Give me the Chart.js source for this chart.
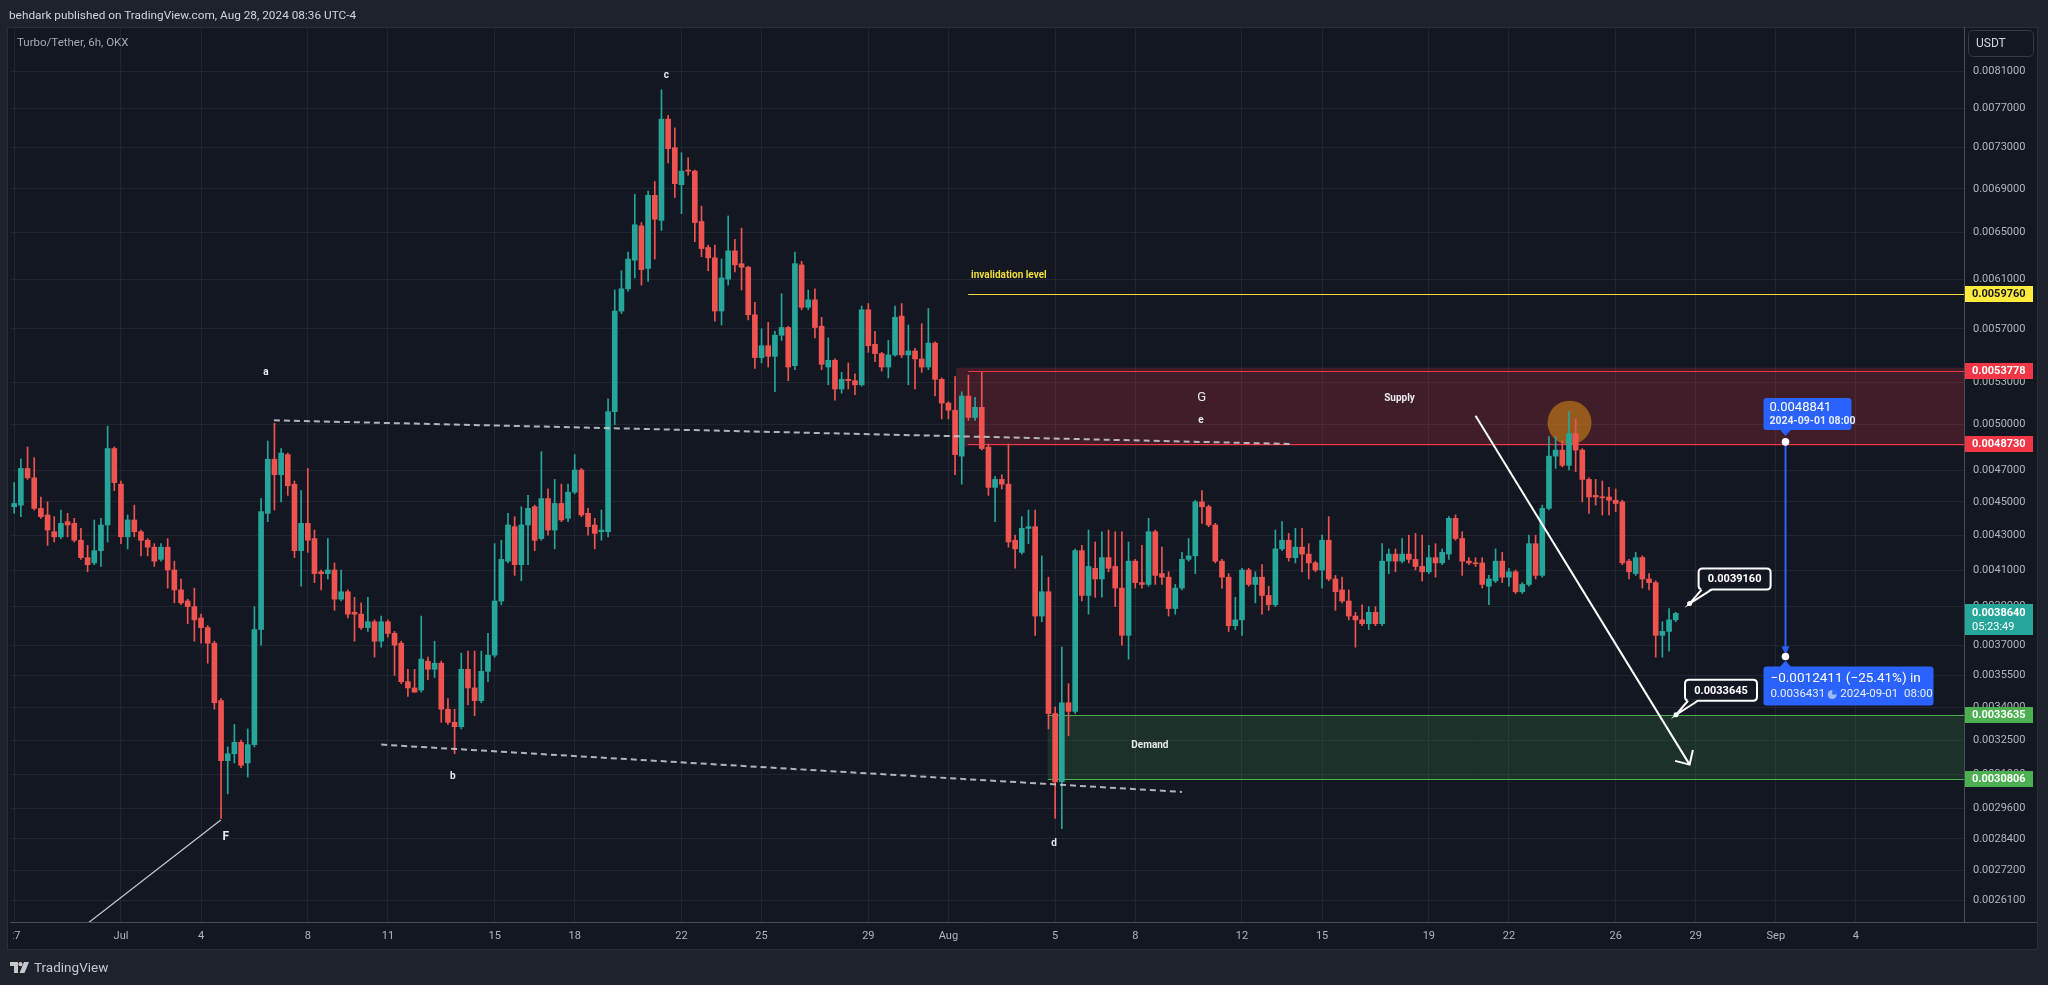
<!DOCTYPE html>
<html><head><meta charset="utf-8">
<script src="https://cdn.jsdelivr.net/npm/chart.js@4.4.1/dist/chart.umd.min.js"></script>
<style>
html,body{margin:0;padding:0;background:#1e222d;width:2048px;height:985px;overflow:hidden;}
#wrap{position:relative;width:2048px;height:985px;}
canvas{position:absolute;left:0;top:0;}
.hdr{position:absolute;left:9px;top:7px;font:11.8px Roboto,sans-serif;color:#d1d4dc;white-space:nowrap;line-height:16px;}
.sym{position:absolute;left:17px;top:34px;font:11.5px Roboto,sans-serif;color:#a6a9b2;white-space:nowrap;line-height:16px;}
.foot{position:absolute;left:10px;top:959px;height:16px;display:flex;align-items:center;font:13.5px Roboto,sans-serif;color:#c6c8ce;white-space:nowrap;}
.foot svg{margin-right:5px;}
</style></head>
<body><div id="wrap">
<canvas id="c" width="2048" height="985" style="width:2048px;height:985px"></canvas>
<div class="hdr">behdark published on TradingView.com, Aug 28, 2024 08:36 UTC-4</div>
<div class="sym">Turbo/Tether, 6h, OKX</div>
<div class="foot"><svg width="19" height="11" viewBox="0 0 19 11"><path d="M0 0H8V11H4V4H0Z" fill="#c6c8ce"/><circle cx="10.5" cy="2.2" r="2.1" fill="#c6c8ce"/><path d="M14 0H19L14.5 11H9.5Z" fill="#c6c8ce"/></svg><span>TradingView</span></div>
</div>
<script>
// ---- candle data (6h candles, Turbo/Tether) ----
const opens=[
0.00447,0.00448,0.00471,0.00465,0.00446,0.00442,0.00432,0.00429,0.00438,0.00437,
0.00427,0.00417,0.00414,0.00421,0.00436,0.00484,0.00461,0.00429,0.00439,0.00432,
0.00427,0.00423,0.00416,0.00423,0.00410,0.00399,0.00393,0.00390,0.00384,0.00379,
0.00371,0.00343,0.00316,0.00319,0.00324,0.00315,0.00323,0.00378,0.00443,0.00477,
0.00467,0.00480,0.00461,0.00421,0.00437,0.00428,0.00409,0.00408,0.00410,0.00394,
0.00398,0.00387,0.00386,0.00379,0.00382,0.00372,0.00382,0.00376,0.00371,0.00352,
0.00349,0.00348,0.00362,0.00358,0.00361,0.00339,0.00333,0.00331,0.00358,0.00349,
0.00343,0.00357,0.00365,0.00393,0.00415,0.00435,0.00413,0.00436,0.00447,0.00428,
0.00452,0.00433,0.00449,0.00440,0.00456,0.00470,0.00443,0.00436,0.00432,0.00432,
0.00509,0.00584,0.00602,0.00626,0.00656,0.00619,0.00684,0.00661,0.00759,0.00730,
0.00694,0.00708,0.00707,0.00660,0.00637,0.00628,0.00584,0.00610,0.00634,0.00623,
0.00620,0.00581,0.00548,0.00557,0.00549,0.00565,0.00571,0.00542,0.00622,0.00587,
0.00593,0.00572,0.00541,0.00546,0.00525,0.00532,0.00531,0.00528,0.00585,0.00558,
0.00551,0.00541,0.00550,0.00580,0.00550,0.00553,0.00547,0.00541,0.00559,0.00532,
0.00515,0.00510,0.00479,0.00520,0.00505,0.00512,0.00485,0.00459,0.00464,0.00461,
0.00427,0.00420,0.00434,0.00435,0.00385,0.00398,0.00337,0.00307,0.00342,0.00338,
0.00421,0.00396,0.00411,0.00405,0.00417,0.00412,0.00400,0.00375,0.00415,0.00403,
0.00402,0.00432,0.00408,0.00406,0.00389,0.00400,0.00416,0.00418,0.00450,0.00447,
0.00436,0.00415,0.00406,0.00380,0.00383,0.00410,0.00402,0.00406,0.00396,0.00391,
0.00422,0.00427,0.00417,0.00423,0.00419,0.00414,0.00410,0.00427,0.00405,0.00399,
0.00393,0.00385,0.00383,0.00381,0.00387,0.00381,0.00415,0.00419,0.00415,0.00419,
0.00416,0.00412,0.00409,0.00417,0.00414,0.00419,0.00440,0.00428,0.00415,0.00414,
0.00414,0.00401,0.00404,0.00415,0.00406,0.00409,0.00398,0.00402,0.00425,0.00407,
0.00446,0.00479,0.00483,0.00473,0.00494,0.00483,0.00464,0.00454,0.00453,0.00453,
0.00451,0.00450,0.00415,0.00408,0.00417,0.00405,0.00403,0.00375,0.00377,0.00383];
const highs=[
0.00462,0.00477,0.00485,0.00478,0.00453,0.00450,0.00441,0.00445,0.00443,0.00440,
0.00434,0.00424,0.00439,0.00440,0.00499,0.00485,0.00463,0.00442,0.00448,0.00433,
0.00428,0.00425,0.00425,0.00428,0.00415,0.00405,0.00394,0.00400,0.00386,0.00380,
0.00372,0.00344,0.00322,0.00332,0.00325,0.00330,0.00390,0.00452,0.00489,0.00501,
0.00484,0.00481,0.00463,0.00457,0.00471,0.00433,0.00410,0.00428,0.00414,0.00410,
0.00399,0.00395,0.00392,0.00395,0.00383,0.00385,0.00383,0.00377,0.00372,0.00358,
0.00358,0.00385,0.00364,0.00372,0.00362,0.00344,0.00339,0.00366,0.00367,0.00367,
0.00367,0.00376,0.00425,0.00427,0.00443,0.00441,0.00447,0.00454,0.00448,0.00482,
0.00458,0.00464,0.00461,0.00461,0.00480,0.00471,0.00446,0.00440,0.00445,0.00518,
0.00601,0.00617,0.00633,0.00685,0.00659,0.00688,0.00697,0.00790,0.00763,0.00750,
0.00725,0.00720,0.00708,0.00674,0.00639,0.00639,0.00627,0.00665,0.00644,0.00654,
0.00621,0.00591,0.00570,0.00575,0.00568,0.00598,0.00572,0.00633,0.00625,0.00601,
0.00602,0.00579,0.00563,0.00547,0.00537,0.00544,0.00536,0.00588,0.00590,0.00568,
0.00552,0.00561,0.00588,0.00590,0.00573,0.00555,0.00574,0.00586,0.00560,0.00533,
0.00516,0.00534,0.00523,0.00535,0.00519,0.00537,0.00487,0.00466,0.00467,0.00487,
0.00430,0.00441,0.00445,0.00445,0.00418,0.00406,0.00340,0.00369,0.00351,0.00422,
0.00424,0.00433,0.00426,0.00432,0.00433,0.00432,0.00432,0.00426,0.00416,0.00424,
0.00440,0.00433,0.00423,0.00409,0.00402,0.00420,0.00428,0.00451,0.00457,0.00448,
0.00437,0.00416,0.00408,0.00395,0.00411,0.00411,0.00409,0.00413,0.00401,0.00433,
0.00438,0.00431,0.00434,0.00434,0.00425,0.00415,0.00430,0.00441,0.00407,0.00406,
0.00399,0.00387,0.00391,0.00390,0.00390,0.00425,0.00422,0.00422,0.00428,0.00430,
0.00431,0.00430,0.00424,0.00425,0.00422,0.00441,0.00442,0.00432,0.00417,0.00417,
0.00417,0.00407,0.00422,0.00420,0.00411,0.00410,0.00403,0.00430,0.00430,0.00448,
0.00492,0.00492,0.00489,0.00509,0.00504,0.00484,0.00465,0.00464,0.00463,0.00459,
0.00458,0.00451,0.00416,0.00420,0.00418,0.00408,0.00404,0.00382,0.00389,0.00387];
const lows=[
0.00443,0.00441,0.00464,0.00445,0.00440,0.00424,0.00426,0.00428,0.00429,0.00426,
0.00416,0.00409,0.00413,0.00412,0.00426,0.00457,0.00425,0.00422,0.00429,0.00418,
0.00418,0.00412,0.00415,0.00400,0.00392,0.00391,0.00381,0.00372,0.00371,0.00361,
0.00339,0.00292,0.00302,0.00315,0.00313,0.00309,0.00322,0.00370,0.00438,0.00445,
0.00450,0.00454,0.00417,0.00401,0.00420,0.00403,0.00399,0.00405,0.00388,0.00393,
0.00384,0.00372,0.00378,0.00377,0.00364,0.00369,0.00374,0.00355,0.00351,0.00345,
0.00347,0.00347,0.00353,0.00354,0.00333,0.00332,0.00319,0.00330,0.00341,0.00336,
0.00342,0.00352,0.00364,0.00391,0.00414,0.00407,0.00404,0.00413,0.00421,0.00427,
0.00430,0.00422,0.00438,0.00438,0.00455,0.00441,0.00430,0.00422,0.00427,0.00429,
0.00500,0.00582,0.00600,0.00611,0.00605,0.00608,0.00627,0.00652,0.00715,0.00682,
0.00667,0.00703,0.00642,0.00629,0.00617,0.00576,0.00573,0.00605,0.00616,0.00601,
0.00577,0.00540,0.00544,0.00541,0.00523,0.00561,0.00531,0.00539,0.00585,0.00585,
0.00563,0.00539,0.00528,0.00517,0.00522,0.00525,0.00521,0.00527,0.00552,0.00545,
0.00538,0.00533,0.00549,0.00548,0.00528,0.00525,0.00537,0.00539,0.00520,0.00504,
0.00504,0.00467,0.00461,0.00503,0.00503,0.00483,0.00454,0.00438,0.00458,0.00423,
0.00411,0.00419,0.00425,0.00375,0.00382,0.00330,0.00292,0.00288,0.00327,0.00337,
0.00393,0.00386,0.00395,0.00395,0.00409,0.00390,0.00370,0.00363,0.00400,0.00400,
0.00401,0.00402,0.00402,0.00385,0.00386,0.00399,0.00415,0.00408,0.00437,0.00435,
0.00414,0.00400,0.00377,0.00378,0.00375,0.00401,0.00392,0.00386,0.00388,0.00390,
0.00421,0.00415,0.00414,0.00409,0.00405,0.00409,0.00400,0.00404,0.00388,0.00392,
0.00383,0.00369,0.00380,0.00378,0.00380,0.00380,0.00408,0.00409,0.00414,0.00414,
0.00410,0.00404,0.00408,0.00406,0.00413,0.00416,0.00427,0.00407,0.00413,0.00412,
0.00400,0.00391,0.00403,0.00403,0.00401,0.00397,0.00397,0.00401,0.00405,0.00406,
0.00445,0.00471,0.00472,0.00470,0.00469,0.00450,0.00443,0.00448,0.00442,0.00442,
0.00444,0.00413,0.00405,0.00407,0.00400,0.00399,0.00364,0.00364,0.00367,0.00382];
const closes=[
0.00449,0.00471,0.00465,0.00446,0.00441,0.00433,0.00429,0.00437,0.00436,0.00427,
0.00417,0.00413,0.00421,0.00436,0.00484,0.00462,0.00429,0.00439,0.00432,0.00427,
0.00423,0.00415,0.00423,0.00410,0.00399,0.00392,0.00390,0.00383,0.00379,0.00371,
0.00342,0.00316,0.00319,0.00324,0.00314,0.00323,0.00378,0.00444,0.00477,0.00467,
0.00481,0.00460,0.00421,0.00437,0.00427,0.00408,0.00408,0.00410,0.00394,0.00398,
0.00386,0.00386,0.00379,0.00382,0.00372,0.00382,0.00376,0.00370,0.00352,0.00349,
0.00347,0.00363,0.00358,0.00361,0.00339,0.00333,0.00331,0.00358,0.00349,0.00343,
0.00357,0.00365,0.00393,0.00416,0.00436,0.00413,0.00436,0.00446,0.00427,0.00452,
0.00433,0.00449,0.00439,0.00456,0.00470,0.00442,0.00435,0.00431,0.00433,0.00509,
0.00584,0.00602,0.00627,0.00657,0.00618,0.00684,0.00662,0.00759,0.00729,0.00695,
0.00707,0.00707,0.00659,0.00636,0.00628,0.00584,0.00611,0.00634,0.00622,0.00620,
0.00581,0.00548,0.00557,0.00549,0.00565,0.00571,0.00541,0.00623,0.00587,0.00593,
0.00571,0.00543,0.00546,0.00525,0.00532,0.00531,0.00528,0.00585,0.00557,0.00551,
0.00541,0.00550,0.00579,0.00550,0.00553,0.00547,0.00541,0.00559,0.00532,0.00515,
0.00510,0.00480,0.00520,0.00505,0.00512,0.00484,0.00459,0.00464,0.00461,0.00426,
0.00422,0.00434,0.00435,0.00385,0.00398,0.00337,0.00307,0.00342,0.00338,0.00421,
0.00396,0.00412,0.00405,0.00417,0.00411,0.00400,0.00375,0.00415,0.00403,0.00402,
0.00432,0.00407,0.00406,0.00389,0.00400,0.00416,0.00418,0.00450,0.00447,0.00436,
0.00415,0.00406,0.00380,0.00383,0.00410,0.00402,0.00406,0.00396,0.00391,0.00422,
0.00427,0.00417,0.00423,0.00419,0.00414,0.00410,0.00427,0.00405,0.00398,0.00393,
0.00385,0.00383,0.00381,0.00387,0.00381,0.00415,0.00419,0.00415,0.00419,0.00416,
0.00412,0.00409,0.00417,0.00414,0.00420,0.00440,0.00428,0.00415,0.00414,0.004135,
0.00402,0.00405,0.00415,0.00406,0.00409,0.00398,0.00402,0.00425,0.00407,0.00446,
0.00479,0.00483,0.00473,0.00494,0.00483,0.00464,0.00453,0.00453,0.004525,0.00451,
0.00449,0.00414,0.00409,0.00417,0.00405,0.00403,0.00375,0.00377,0.00383,0.003864];

// time axis: days counted from Jul 1 (00:00); first candle on Jun 27, 4 candles per day
const firstCandleDay=-4;
const candleStepDays=0.25;
const xTickDays=[-4,0,3,7,10,14,17,21,24,28,31,35,38,42,45,49,52,56,59,62,65];
const xTickLabels=['27','Jul','4','8','11','15','18','22','25','29','Aug','5','8','12','15','19','22','26','29','Sep','4'];
const yTicks=[0.0081,0.0077,0.0073,0.0069,0.0065,0.0061,0.0057,0.0053,0.0050,0.0047,0.0045,0.0043,0.0041,0.0039,0.0037,0.00355,0.0034,0.00325,0.0031,0.00296,0.00284,0.00272,0.00261];
const xRange=[-4.154,69.05];
const yRange=[0.002535,0.008608];

// levels drawn on the chart
const supplyTop=0.0053778, supplyBottom=0.0048730;
const demandTop=0.0033635, demandBottom=0.0030806;
const invalidationLevel=0.0059760;
const lastPrice=0.0038640;
const measureDay=62.333, measureFrom=0.0048841, measureTo=0.0036431;

const UP='#26a69a', DOWN='#ef5350', GRID='rgba(42,46,57,0.62)';
const xs=opens.map((_,i)=>firstCandleDay+i*candleStepDays);
const candleColors=opens.map((o,i)=>closes[i]>=o?UP:DOWN);
const wickData=xs.map((x,i)=>({x:x,y:[lows[i],highs[i]]}));
const bodyData=xs.map((x,i)=>({x:x,y:[Math.min(opens[i],closes[i]),Math.max(opens[i],closes[i])]}));

function rr(c,x,y,w,h,r){c.beginPath();c.moveTo(x+r,y);c.lineTo(x+w-r,y);c.quadraticCurveTo(x+w,y,x+w,y+r);c.lineTo(x+w,y+h-r);c.quadraticCurveTo(x+w,y+h,x+w-r,y+h);c.lineTo(x+r,y+h);c.quadraticCurveTo(x,y+h,x,y+h-r);c.lineTo(x,y+r);c.quadraticCurveTo(x,y,x+r,y);c.closePath();}
function txt(c,t,x,y,font,color,align){c.font=font;c.fillStyle=color;c.textAlign=align||'center';c.textBaseline='middle';c.fillText(t,x,y);}

const tvPlugin={
  id:'tv',
  beforeDraw(chart){
    const c=chart.ctx;
    c.save();
    c.fillStyle='#1e222d';c.fillRect(0,0,2048,985);
    c.fillStyle='#131722';c.fillRect(7,27,2030,922);
    c.strokeStyle='#2a2e39';c.lineWidth=1;c.strokeRect(7.5,27.5,2030,922);
    c.restore();
    const sx=chart.scales.x;
    if(!sx.__clipped){
      const orig=sx.drawLabels.bind(sx);
      sx.drawLabels=function(a){const cc=this.ctx;cc.save();cc.beginPath();cc.rect(chart.chartArea.left+3,this.top,chart.chartArea.right-chart.chartArea.left-3,this.height);cc.clip();orig(a);cc.restore();};
      sx.__clipped=true;
    }
  },
  beforeDatasetsDraw(chart){
    const c=chart.ctx,a=chart.chartArea,X=v=>chart.scales.x.getPixelForValue(v),Y=v=>chart.scales.y.getPixelForValue(v);
    const hl=(x1,x2,y)=>{c.beginPath();c.moveTo(x1,Math.round(y)+0.5);c.lineTo(x2,Math.round(y)+0.5);c.stroke();};
    c.save();c.beginPath();c.rect(a.left,a.top,a.right-a.left,a.bottom-a.top);c.clip();
    // supply zone
    c.fillStyle='rgba(242,54,69,0.2)';
    c.fillRect(X(31.29),Y(0.005405),a.right-X(31.29),Y(0.004855)-Y(0.005405));
    c.strokeStyle='#f23645';c.lineWidth=1;
    hl(X(31.74),a.right,Y(supplyTop));hl(X(31.74),a.right,Y(supplyBottom));
    // demand zone
    c.fillStyle='rgba(76,175,80,0.17)';
    c.fillRect(X(34.72),Y(demandTop),a.right-X(34.72),Y(demandBottom)-Y(demandTop));
    c.strokeStyle='#4caf50';
    hl(X(34.72),a.right,Y(demandTop));hl(X(34.72),a.right,Y(demandBottom));
    // invalidation level
    c.strokeStyle='#f5d937';
    hl(X(31.74),a.right,Y(invalidationLevel));
    // orange circle
    c.fillStyle='rgba(224,140,20,0.55)';
    c.beginPath();c.arc(X(54.27),Y(0.005014),22,0,Math.PI*2);c.fill();
    c.restore();
  },
  afterDatasetsDraw(chart){
    const c=chart.ctx,a=chart.chartArea,X=v=>chart.scales.x.getPixelForValue(v),Y=v=>chart.scales.y.getPixelForValue(v);
    c.save();c.beginPath();c.rect(a.left,a.top,a.right-a.left,a.bottom-a.top);c.clip();
    // dashed trend lines
    c.strokeStyle='rgba(205,207,214,0.85)';c.lineWidth=2;c.setLineDash([6,4]);
    [[5.73,0.00503,43.83,0.00487],[9.75,0.00323,39.75,0.003028]].forEach(l=>{c.beginPath();c.moveTo(X(l[0]),Y(l[1]));c.lineTo(X(l[2]),Y(l[3]));c.stroke();});
    c.setLineDash([]);
    // line into F
    c.strokeStyle='rgba(220,222,228,0.9)';c.lineWidth=1.2;
    c.beginPath();c.moveTo(X(-2),Y(0.002477));c.lineTo(X(3.74),Y(0.002914));c.stroke();
    // projection arrow
    const ax1=X(50.75),ay1=Y(0.005062),ax2=X(58.77),ay2=Y(0.003143);
    c.strokeStyle='#ffffff';c.lineWidth=2;
    c.beginPath();c.moveTo(ax1,ay1);c.lineTo(ax2,ay2);c.stroke();
    const ang=Math.atan2(ay1-ay2,ax1-ax2);
    c.beginPath();
    c.moveTo(ax2+15*Math.cos(ang-0.77),ay2+15*Math.sin(ang-0.77));c.lineTo(ax2,ay2);
    c.lineTo(ax2+15*Math.cos(ang+0.77),ay2+15*Math.sin(ang+0.77));c.stroke();
    // wave labels
    const lab=[['a',5.43,0.00537,'bold 10px Roboto'],['b',12.43,0.003094,'bold 10px Roboto'],['c',20.43,0.008056,'bold 10px Roboto'],
      ['d',34.96,0.002823,'bold 10px Roboto'],['e',40.46,0.00503,'bold 10px Roboto'],['G',40.49,0.005187,'13px Roboto'],
      ['F',3.93,0.002847,'bold 12px Roboto'],['Supply',47.9,0.005182,'bold 10px Roboto'],['Demand',38.55,0.003228,'bold 10px Roboto']];
    lab.forEach(l=>txt(c,l[0],X(l[1]),Y(l[2]),l[3],'#e9eaee'));
    txt(c,'invalidation level',X(31.85),Y(0.00613),'bold 10px Roboto','#f2de3a','left');
    // callouts
    [[58.77,0.003916,'0.0039160'],[58.26,0.0033645,'0.0033645']].forEach(k=>{
      const px=X(k[0]),py=Y(k[1]);const bw=72,bh=21,bx=px+9,by=py-14-bh;
      c.lineWidth=2;c.strokeStyle='#ffffff';c.fillStyle='#131722';
      rr(c,bx,by,bw,bh,4);c.fill();c.stroke();
      c.beginPath();c.moveTo(bx+3,by+bh-1.5);c.lineTo(px,py);c.lineTo(bx+13,by+bh-1.5);c.closePath();c.fill();
      c.beginPath();c.moveTo(bx+3,by+bh);c.lineTo(px,py);c.lineTo(bx+13,by+bh);c.stroke();
      c.fillStyle='#ffffff';c.beginPath();c.arc(px,py,2.5,0,Math.PI*2);c.fill();
      txt(c,k[2],bx+bw/2,by+bh/2+0.5,'bold 11px Roboto','#ffffff');
    });
    c.restore();
    // measure tool
    const mx=Math.round(X(measureDay))+0.5,my1=Y(measureFrom),my2=Y(measureTo);
    c.save();
    c.strokeStyle='#2962ff';c.lineWidth=2;
    c.beginPath();c.moveTo(mx,my1);c.lineTo(mx,my2-6);c.stroke();
    c.fillStyle='#2962ff';c.beginPath();c.moveTo(mx-4,my2-10);c.lineTo(mx+4,my2-10);c.lineTo(mx,my2-2);c.closePath();c.fill();
    // top box
    const tbL=mx-22,tbT=my1-44;
    rr(c,tbL,tbT,88,32,3);c.fill();
    c.beginPath();c.moveTo(mx-6,tbT+31);c.lineTo(mx+6,tbT+31);c.lineTo(mx,tbT+38);c.closePath();c.fill();
    txt(c,'0.0048841',tbL+6,tbT+10,'13px Roboto','#ffffff','left');
    txt(c,'2024-09-01 08:00',tbL+6,tbT+23,'bold 10.5px Roboto','#e8ecff','left');
    // bottom box
    const bbL=mx-22,bbT=my2+10;
    c.fillStyle='#2962ff';rr(c,bbL,bbT,170,39,3);c.fill();
    c.beginPath();c.moveTo(mx-6,bbT+1);c.lineTo(mx+6,bbT+1);c.lineTo(mx,bbT-6);c.closePath();c.fill();
    txt(c,'\u22120.0012411 (\u221225.41%) in',bbL+7,bbT+12,'13.5px Roboto','#ffffff','left');
    c.font='11.5px Roboto';const w1=c.measureText('0.0036431').width;
    txt(c,'0.0036431',bbL+7,bbT+28,'11.5px Roboto','#e8ecff','left');
    const cx=bbL+7+w1+7;
    c.fillStyle='rgba(255,255,255,0.55)';c.beginPath();c.arc(cx,bbT+28,4.5,0,Math.PI*2);c.fill();
    c.fillStyle='#2962ff';c.beginPath();c.moveTo(cx,bbT+28);c.arc(cx,bbT+28,4.6,-Math.PI/2,0);c.closePath();c.fill();
    txt(c,'2024-09-01  08:00',cx+8,bbT+28,'11.5px Roboto','#e8ecff','left');
    // dots
    c.fillStyle='#ffffff';
    c.beginPath();c.arc(mx,my1,3.8,0,Math.PI*2);c.fill();
    c.beginPath();c.arc(mx,my2,3.8,0,Math.PI*2);c.fill();
    c.restore();
  },
  afterDraw(chart){
    const c=chart.ctx,a=chart.chartArea,Y=v=>chart.scales.y.getPixelForValue(v);
    c.save();
    c.strokeStyle='#4a4e59';c.lineWidth=1;
    c.beginPath();c.moveTo(a.right,922.5);c.lineTo(2037,922.5);c.stroke();
    const tag=(p,bg,fg,t,t2)=>{
      const y=Math.round(Y(p));
      c.fillStyle=bg;
      if(t2){c.fillRect(1965,y-9,68,31);txt(c,t,1972,y,'bold 11px Roboto',fg,'left');txt(c,t2,1972,y+14,'11px Roboto',fg,'left');}
      else{c.fillRect(1965,y-8,68,16);txt(c,t,1972,y+0.5,'bold 11px Roboto',fg,'left');}
    };
    tag(invalidationLevel,'#ffeb3b','#131722','0.0059760');
    tag(supplyTop,'#f23645','#ffffff','0.0053778');
    tag(supplyBottom,'#f23645','#ffffff','0.0048730');
    tag(lastPrice,'#26a69a','#ffffff','0.0038640','05:23:49');
    tag(demandTop,'#4caf50','#ffffff','0.0033635');
    tag(demandBottom,'#4caf50','#ffffff','0.0030806');
    // currency box
    c.strokeStyle='#363a45';c.lineWidth=1;c.fillStyle='#131722';
    rr(c,1968.5,30.5,65,26,5);c.fill();c.stroke();
    txt(c,'USDT',1976,44,'12px Roboto','#d1d4dc','left');
    c.restore();
  }
};

const chart=new Chart(document.getElementById('c').getContext('2d'),{
  type:'bar',
  data:{datasets:[
    {label:'Wicks',data:wickData,backgroundColor:candleColors,barThickness:1,grouped:false,order:2,borderWidth:0},
    {label:'Bodies',data:bodyData,backgroundColor:candleColors,barThickness:5,minBarLength:1,grouped:false,order:1,borderWidth:0}
  ]},
  options:{
    responsive:false,animation:false,devicePixelRatio:1,
    layout:{autoPadding:false,padding:{left:8,top:27,right:11,bottom:36}},
    plugins:{legend:{display:false},tooltip:{enabled:false}},
    scales:{
      x:{type:'linear',min:xRange[0],max:xRange[1],offset:false,
        grid:{color:GRID,drawTicks:false,offset:false},
        border:{color:'#4a4e59'},
        ticks:{autoSkip:false,maxRotation:0,padding:8,color:'#b2b5be',font:{family:'Roboto',size:11},callback:(v,i)=>xTickLabels[i]},
        afterBuildTicks:s=>{s.ticks=xTickDays.map(v=>({value:v}));},
        afterFit:s=>{s.height=27;}},
      y:{type:'logarithmic',position:'right',min:yRange[0],max:yRange[1],
        grid:{color:GRID,drawTicks:false},
        border:{color:'#4a4e59'},
        ticks:{autoSkip:false,padding:9,color:'#b2b5be',font:{family:'Roboto',size:11},callback:v=>Number(v).toFixed(7)},
        afterBuildTicks:s=>{s.ticks=yTicks.map(v=>({value:v}));},
        afterFit:s=>{s.width=73;}}
    }
  },
  plugins:[tvPlugin]
});
</script>
</body></html>
